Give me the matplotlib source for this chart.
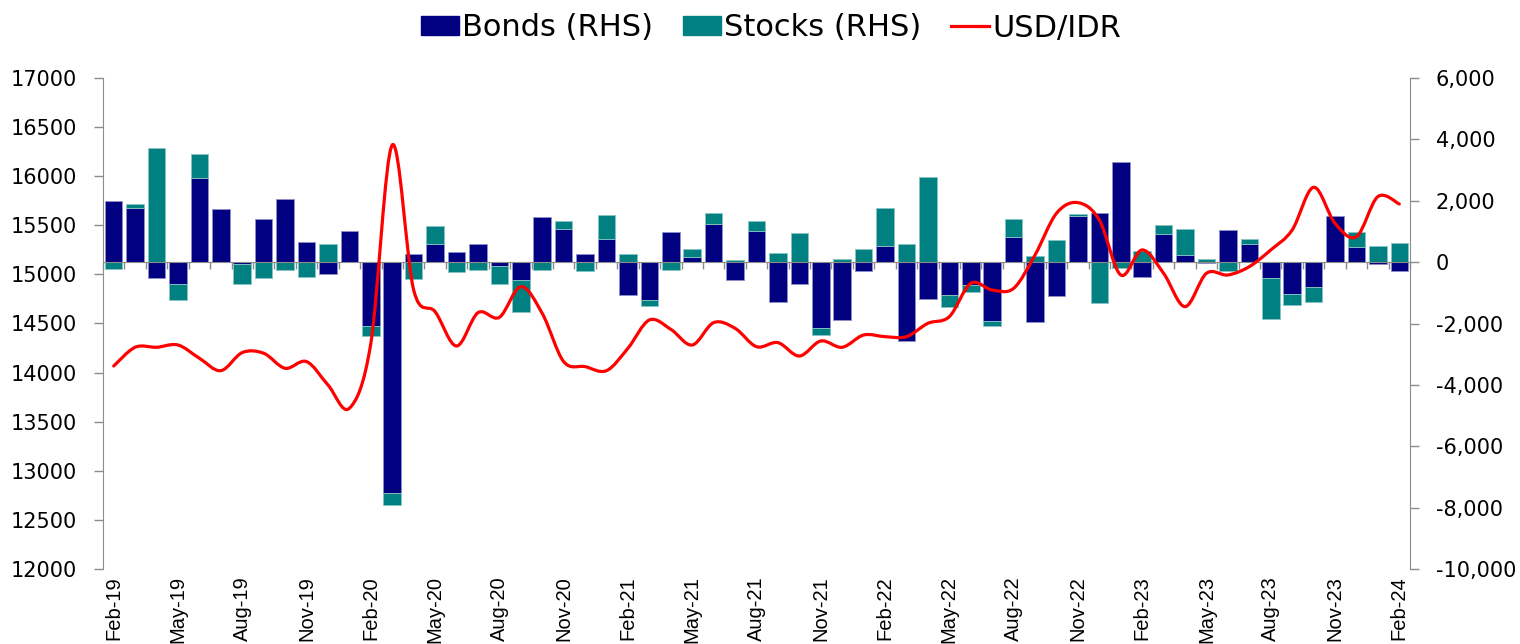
import matplotlib
matplotlib.use("Agg")
import matplotlib.pyplot as plt
import numpy as np
from matplotlib.path import Path
from matplotlib.patches import PathPatch
from matplotlib.lines import Line2D
from matplotlib.patches import Patch
from matplotlib.ticker import FixedLocator, FixedFormatter, FuncFormatter

# monthly, Feb-19 .. Feb-24
months = ["Feb-19", "Mar-19", "Apr-19", "May-19", "Jun-19", "Jul-19", "Aug-19", "Sep-19",
          "Oct-19", "Nov-19", "Dec-19", "Jan-20", "Feb-20", "Mar-20", "Apr-20", "May-20",
          "Jun-20", "Jul-20", "Aug-20", "Sep-20", "Oct-20", "Nov-20", "Dec-20", "Jan-21",
          "Feb-21", "Mar-21", "Apr-21", "May-21", "Jun-21", "Jul-21", "Aug-21", "Sep-21",
          "Oct-21", "Nov-21", "Dec-21", "Jan-22", "Feb-22", "Mar-22", "Apr-22", "May-22",
          "Jun-22", "Jul-22", "Aug-22", "Sep-22", "Oct-22", "Nov-22", "Dec-22", "Jan-23",
          "Feb-23", "Mar-23", "Apr-23", "May-23", "Jun-23", "Jul-23", "Aug-23", "Sep-23",
          "Oct-23", "Nov-23", "Dec-23", "Jan-24", "Feb-24"]

# foreign flows, RHS
bonds = [2000, 1750, -530, -715, 2750, 1720, -60, 1405, 2070, 655, -400, 1000,
         -2080, -7520, 265, 600, 320, 590, -130, -595, 1480, 1090, 265, 765,
         -1070, -1245, 970, 175, 1250, -585, 1010, -1310, -715, -2150, -1885, -280,
         535, -2580, -1200, -1070, -745, -1920, 820, -1940, -1115, 1515, 1610, 3260,
         -500, 925, 240, -40, 1055, 590, -530, -1040, -810, 1500, 480, -45, -300]
stocks = [-230, 130, 3730, -510, 780, 0, -650, -530, -270, -500, 580, 0,
          -330, -395, -560, 565, -310, -260, -595, -1045, -260, 260, -280, 770,
          265, -195, -245, 250, 350, 55, 320, 295, 960, -215, 90, 415,
          1225, 580, 2770, -380, -220, -160, 575, 200, 720, 40, -1345, -205,
          360, 295, 830, 100, -290, 175, -1325, -370, -500, 0, 500, 525, 630]

# exchange rate, LHS
usd_idr = [14067, 14258, 14258, 14281, 14146, 14020, 14204, 14197, 14044, 14112, 13874, 13637,
           14298, 16318, 14841, 14620, 14271, 14610, 14563, 14875, 14603, 14112, 14061, 14020,
           14248, 14536, 14441, 14281, 14509, 14451, 14264, 14305, 14169, 14322, 14258, 14383,
           14366, 14366, 14502, 14570, 14909, 14841, 14858, 15198, 15622, 15731, 15554, 14994,
           15249, 15011, 14672, 15011, 14994, 15079, 15249, 15452, 15887, 15520, 15384, 15792, 15717]

NAVY = "#000080"
TEAL = "#008080"
GRID = "#8c8c8c"


def smooth_path(x, y):
    """Excel-style smoothed line: cubic Bezier through every point."""
    pts = np.column_stack([x, y]).astype(float)
    verts = [pts[0]]
    codes = [Path.MOVETO]
    n = len(pts)
    for i in range(n - 1):
        p0 = pts[max(i - 1, 0)]
        p1 = pts[i]
        p2 = pts[i + 1]
        p3 = pts[min(i + 2, n - 1)]
        c1 = p1 + (p2 - p0) / 6.0
        c2 = p2 - (p3 - p1) / 6.0
        verts += [c1, c2, p2]
        codes += [Path.CURVE4] * 3
    return Path(verts, codes)


x = np.arange(len(months))
bonds_a = np.array(bonds, dtype=float)
stocks_a = np.array(stocks, dtype=float)
# positives stack on positives, negatives on negatives
stocks_bottom = np.where(np.sign(stocks_a) == np.sign(bonds_a), bonds_a, 0.0)

fig = plt.figure(figsize=(15.2, 6.44), dpi=100)
ax = fig.add_axes([103 / 1520, 1 - 569 / 644, (1410 - 103) / 1520, (569 - 78) / 644])
ax2 = ax.twinx()
ax.set_zorder(ax2.get_zorder() + 1)
ax.patch.set_visible(False)

ax2.bar(x, bonds_a, width=0.82, color=NAVY, edgecolor="#8f8fc8", linewidth=0.6, zorder=2)
ax2.bar(x, stocks_a, width=0.82, bottom=stocks_bottom, color=TEAL, edgecolor="#88c4c4",
        linewidth=0.6, zorder=2)

ax.add_patch(PathPatch(smooth_path(x, usd_idr), facecolor="none", edgecolor="#ff0000",
                       linewidth=2.3, capstyle="round"))

ax.set_xlim(-0.5, len(months) - 0.5)
ax.set_ylim(12000, 17000)
ax2.set_ylim(-10000, 6000)
ax.set_yticks(np.arange(12000, 17001, 500))
ax2.set_yticks(np.arange(-10000, 6001, 2000))
ax2.yaxis.set_major_formatter(FuncFormatter(lambda v, p: f"{int(v):,}"))

# shared x tickers: major = category boundaries, minor = every third label
ax.xaxis.set_major_locator(FixedLocator(np.arange(len(months) + 1) - 0.5))
ax.xaxis.set_major_formatter(FixedFormatter([""] * (len(months) + 1)))
label_idx = list(range(0, len(months), 3))
ax.xaxis.set_minor_locator(FixedLocator(label_idx))
ax.xaxis.set_minor_formatter(FixedFormatter([months[i] for i in label_idx]))

for a in (ax, ax2):
    for s in a.spines.values():
        s.set_visible(False)

ax.spines["left"].set_visible(True)
ax.spines["left"].set_color(GRID)
ax.tick_params(axis="y", direction="out", length=6.5, width=1, color=GRID, pad=12,
               labelsize=15, labelcolor="black")
ax.tick_params(axis="x", which="major", length=0, labelbottom=False)
ax.tick_params(axis="x", which="minor", length=0, pad=5, labelsize=14.5, labelrotation=90)
for t in ax.get_xticklabels(minor=True):
    t.set_fontfamily("Liberation Sans")
    t.set_va("top")

ax2.spines["right"].set_visible(True)
ax2.spines["right"].set_color(GRID)
ax2.tick_params(axis="y", direction="out", length=6.5, width=1, color=GRID, pad=12,
                labelsize=15, labelcolor="black")

# category axis drawn through zero of the flows axis
ax2.xaxis.set_visible(True)
ax2.spines["bottom"].set_visible(True)
ax2.spines["bottom"].set_position(("data", 0))
ax2.spines["bottom"].set_color(GRID)
ax2.spines["bottom"].set_zorder(3)
ax2.tick_params(axis="x", which="major", direction="out", length=5, width=1, color=GRID,
                labelbottom=False)
ax2.tick_params(axis="x", which="minor", length=0, labelbottom=False)

handles = [Patch(facecolor=NAVY, edgecolor=NAVY), Patch(facecolor=TEAL, edgecolor=TEAL),
           Line2D([], [], color="#ff0000", linewidth=2.3)]
fig.legend(handles, ["Bonds (RHS)", "Stocks (RHS)", "USD/IDR"], loc="center",
           bbox_to_anchor=(771 / 1520, 1 - 28 / 644), ncol=3, frameon=False, fontsize=22,
           handlelength=1.25, handleheight=0.6, handletextpad=0.12, columnspacing=0.95,
           borderaxespad=0)

fig.savefig("out.png", dpi=100)
